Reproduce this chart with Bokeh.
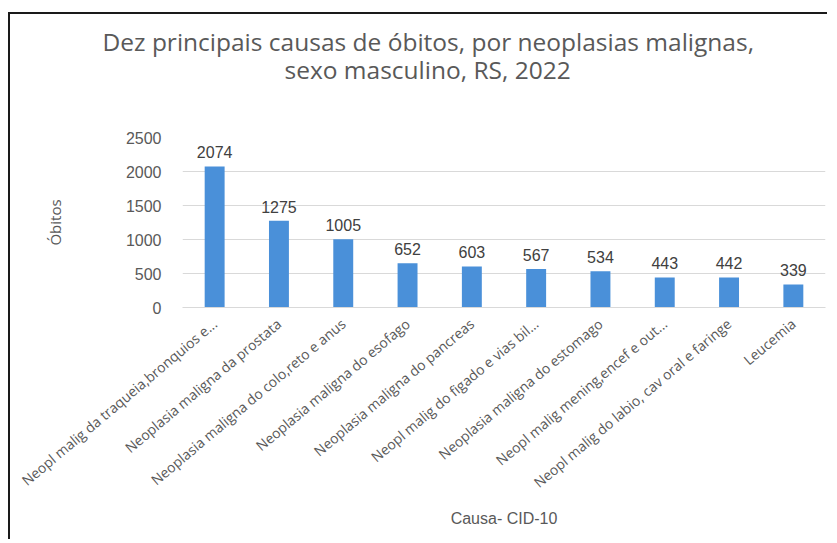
from bokeh.plotting import figure
from bokeh.models import FactorRange, Range1d, LabelSet, ColumnDataSource, FixedTicker, Title
from bokeh.core.properties import value
from bokeh.embed import file_html
from bokeh.resources import INLINE

causes = [
    "Neopl malig da traqueia,bronquios e...",
    "Neoplasia maligna da prostata",
    "Neoplasia maligna do colo,reto e anus",
    "Neoplasia maligna do esofago",
    "Neoplasia maligna do pancreas",
    "Neopl malig do figado e vias bil...",
    "Neoplasia maligna do estomago",
    "Neopl malig mening,encef e out...",
    "Neopl malig do labio, cav oral e faringe",
    "Leucemia",
]
deaths = [2074, 1275, 1005, 652, 603, 567, 534, 443, 442, 339]
y_ticks = [0, 500, 1000, 1500, 2000, 2500]

title_lines = ["Dez principais causas de óbitos, por neoplasias malignas,",
               "sexo masculino, RS, 2022"]
x_title = "Causa- CID-10"
y_title = "Óbitos"

GRAY = "#595959"
BLUE = "#4A90D9"

src = ColumnDataSource(dict(x=causes, y=deaths, lab=[str(v) for v in deaths]))

p = figure(width=819, height=527, output_backend="svg", toolbar_location=None,
           x_range=FactorRange(*causes, range_padding=0), y_range=Range1d(0, 2500),
           min_border_left=172, min_border_top=123, min_border_bottom=234,
           min_border_right=4, tools="")
p.styles = {"margin-top": "12px", "margin-left": "8px",
            "border-top": "2px solid #1a1a1a", "border-left": "2px solid #1a1a1a"}
p.outline_line_color = None
p.background_fill_color = "white"
p.border_fill_color = "white"

p.vbar(x="x", top="y", width=0.31, source=src, color=BLUE, line_color=None)

p.xgrid.grid_line_color = None
p.ygrid.grid_line_color = "#d9d9d9"
p.ygrid.ticker = FixedTicker(ticks=y_ticks)

p.yaxis.ticker = FixedTicker(ticks=y_ticks)
p.yaxis.axis_line_color = None
p.yaxis.major_tick_line_color = None
p.yaxis.minor_tick_line_color = None
p.yaxis.major_label_text_font = "Liberation Sans"
p.yaxis.major_label_text_font_size = "16px"
p.yaxis.major_label_text_color = GRAY
p.yaxis.major_label_standoff = 15
p.yaxis.axis_label = y_title
p.yaxis.axis_label_text_font = "Open Sans"
p.yaxis.axis_label_text_font_style = "normal"
p.yaxis.axis_label_text_font_size = "15px"
p.yaxis.axis_label_text_color = GRAY
p.yaxis.axis_label_standoff = 58

p.xaxis.axis_line_color = "#d9d9d9"
p.xaxis.major_tick_line_color = None
p.xaxis.minor_tick_line_color = None
p.xaxis.major_label_orientation = 0.70
p.xaxis.major_label_text_font = "Open Sans"
p.xaxis.major_label_text_font_size = "14px"
p.xaxis.major_label_text_color = GRAY
p.xaxis.major_label_standoff = 8
p.xaxis.axis_label = x_title
p.xaxis.axis_label_text_font = "Liberation Sans"
p.xaxis.axis_label_text_font_style = "normal"
p.xaxis.axis_label_text_font_size = "16px"
p.xaxis.axis_label_text_color = GRAY
p.xaxis.axis_label_standoff = 8

p.add_layout(LabelSet(x="x", y="y", text="lab", source=src, text_align="center",
                      text_baseline="bottom", y_offset=8,
                      text_font=value("Liberation Sans"),
                      text_font_size="16px", text_color="#404040"))

# above panel, stacked from the frame outward: spacer, second line, first line
title_style = dict(text_font="Open Sans", text_font_size="24.5px",
                   text_font_style="normal", text_color=GRAY)
p.add_layout(Title(text="\u00a0", align="left", offset=0, standoff=19.5,
                   **title_style), "above")
p.add_layout(Title(text=title_lines[1], align="left", offset=102, standoff=-7,
                   **title_style), "above")
p.add_layout(Title(text=title_lines[0], align="left", offset=-80, standoff=-7,
                   **title_style), "above")

open("out.html", "w").write(file_html(p, INLINE))
